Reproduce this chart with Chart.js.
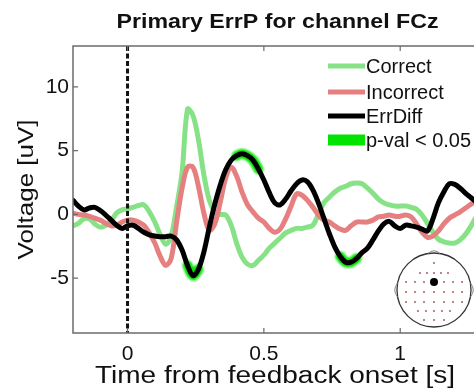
<!DOCTYPE html>
<html>
<head>
<meta charset="utf-8">
<script src="https://cdn.jsdelivr.net/npm/chart.js@4/dist/chart.umd.min.js"></script>
<style>
  html, body { margin: 0; padding: 0; background: #fff; overflow: hidden; }
  #wrap { width: 474px; height: 389px; overflow: hidden; position: relative; }
  canvas { display: block; }
</style>
</head>
<body>
<div id="wrap"><canvas id="erp" width="490" height="389"></canvas></div>
<script>
// Time from feedback onset [s]
const times = [
  -0.20, -0.18, -0.16, -0.14, -0.12, -0.10, -0.08, -0.06, -0.04, -0.02,
   0.00,  0.02,  0.04,  0.06,  0.08,  0.10,  0.12,  0.14,  0.16,  0.18,
   0.20,  0.22,  0.24,  0.26,  0.28,  0.30,  0.32,  0.34,  0.36,  0.38,
   0.40,  0.42,  0.44,  0.46,  0.48,  0.50,  0.52,  0.54,  0.56,  0.58,
   0.60,  0.62,  0.64,  0.66,  0.68,  0.70,  0.72,  0.74,  0.76,  0.78,
   0.80,  0.82,  0.84,  0.86,  0.88,  0.90,  0.92,  0.94,  0.96,  0.98,
   1.00,  1.02,  1.04,  1.06,  1.08,  1.10,  1.12,  1.14,  1.16,  1.18,
   1.20,  1.22,  1.24,  1.26,  1.28
];

// Grand-average voltage [uV] at FCz
const correct = [
  -0.9, -0.7, -0.35, -0.35, -0.75, -1.0, -0.85, -0.5, 0.1, 0.35,
   0.45, 0.55, 0.7, 0.75, 0.2, -0.6, -1.6, -2.35, -1.7, 0.6,
   3.3, 8.25, 7.75, 5.85, 3.1, 1.1, 0.2, 0.0, -0.05, -0.85,
  -2.25, -3.35, -3.9, -4.0, -3.6, -3.2, -2.65, -2.25, -1.85, -1.45,
  -1.25, -1.1, -1.1, -1.0, -0.85, 0.0, 0.9, 1.35, 1.75, 2.05,
   2.2, 2.4, 2.45, 2.4, 2.05, 1.65, 1.2, 0.9, 0.75, 0.65,
   0.65, 0.65, 0.55, 0.4, -0.05, -0.7, -1.4, -1.95, -2.15, -2.25,
  -2.25, -2.0, -1.55, -0.9, -0.15
];

const incorrect = [
   0.1, 0.0, -0.05, -0.15, -0.3, -0.45, -0.7, -0.9, -0.85, -0.6,
  -0.45, -0.45, -0.6, -0.85, -1.45, -2.25, -3.3, -4.0, -3.45, -0.6,
   2.05, 3.7, 3.7, 2.2, 0.1, -1.25, -0.75, 0.95, 2.85, 3.7,
   3.0, 1.75, 0.75, 0.2, -0.3, -0.6, -1.1, -1.4, -1.15, -0.35,
   0.65, 1.6, 1.5, 1.1, 0.55, -0.05, -0.45, -0.6, -0.9, -1.15,
  -1.25, -0.9, -0.6, -0.6, -0.6, -0.45, -0.2, -0.15, -0.05, -0.15,
  -0.15, -0.05, -0.2, -0.75, -1.4, -1.8, -1.7, -1.3, -0.75, -0.3,
  -0.05, 0.2, 0.5, 0.8, 1.05
];

const errDiff = [
   1.1, 0.65, 0.35, 0.5, 0.55, 0.3, -0.05, -0.45, -0.85, -1.1,
  -0.9, -0.85, -1.1, -1.4, -1.6, -1.7, -1.75, -1.75, -1.7, -2.0,
  -2.8, -4.0, -4.8, -4.3, -2.95, -1.0, 0.8, 2.3, 3.5, 4.25,
   4.6, 4.75, 4.6, 4.25, 3.55, 2.7, 1.7, 0.9, 0.75, 1.2,
   1.85, 2.4, 2.7, 2.55, 1.9, 0.9, -0.3, -1.5, -2.55, -3.3,
  -3.75, -3.75, -3.45, -3.0, -2.65, -2.0, -1.3, -0.75, -0.55, -0.9,
  -1.1, -0.85, -0.9, -1.0, -1.15, -1.3, -0.35, 0.9, 1.75, 2.4,
   2.35, 2.05, 1.65, 1.3, 0.95
];

// Time windows [s] where the Correct/Incorrect difference is significant
const sigWindows = [[0.21, 0.27], [0.39, 0.49], [0.77, 0.85]];

const xTicks = [0, 0.5, 1];
const yTicks = [-5, 0, 5, 10];

const FONT = '"Liberation Sans", Arial, Helvetica, sans-serif';
const COL_CORRECT = 'rgb(135, 226, 135)';
const COL_INCORRECT = 'rgb(230, 128, 128)';
const COL_DIFF = '#000000';
const COL_SIG = 'rgb(0, 228, 0)';

const pts = vals => times.map((t, i) => ({ x: t, y: vals[i] }));
const inSig = t => sigWindows.some(w => t >= w[0] && t <= w[1]);

// Text drawn with a horizontal stretch so it spans a given width
function stretchText(ctx, text, x, y, width, font, rotate) {
  ctx.save();
  ctx.font = font;
  const w = ctx.measureText(text).width;
  ctx.translate(x, y);
  if (rotate) ctx.rotate(-Math.PI / 2);
  ctx.scale(width / w, 1);
  ctx.textAlign = 'center';
  ctx.textBaseline = 'alphabetic';
  ctx.fillStyle = '#111';
  ctx.fillText(text, 0, 0);
  ctx.restore();
}

const decorations = {
  id: 'decorations',
  beforeDatasetDraw(chart, args) {
    const ds = chart.data.datasets[args.index];
    if (ds.glow) { chart.ctx.save(); chart.ctx.filter = 'blur(1.2px)'; }
  },
  afterDatasetDraw(chart, args) {
    const ds = chart.data.datasets[args.index];
    if (ds.glow) chart.ctx.restore();
  },
  afterDatasetsDraw(chart) {
    const { ctx, chartArea: a, scales } = chart;
    const xs = scales.x, ys = scales.y;
    ctx.save();
    // feedback onset marker
    const x0 = xs.getPixelForValue(0);
    ctx.strokeStyle = '#111';
    ctx.lineWidth = 3;
    ctx.setLineDash([5, 2.5]);
    ctx.beginPath();
    ctx.moveTo(x0, a.top);
    ctx.lineTo(x0, a.bottom);
    ctx.stroke();
    ctx.setLineDash([]);
    // axes box
    ctx.strokeStyle = '#6b6b6b';
    ctx.lineWidth = 1.5;
    ctx.strokeRect(a.left, a.top, a.right - a.left, a.bottom - a.top);
    // inward tick marks
    ctx.lineWidth = 1.2;
    ctx.beginPath();
    xTicks.forEach(v => {
      const px = xs.getPixelForValue(v);
      ctx.moveTo(px, a.bottom); ctx.lineTo(px, a.bottom - 5);
      ctx.moveTo(px, a.top); ctx.lineTo(px, a.top + 5);
    });
    yTicks.forEach(v => {
      const py = ys.getPixelForValue(v);
      ctx.moveTo(a.left, py); ctx.lineTo(a.left + 5, py);
      ctx.moveTo(a.right, py); ctx.lineTo(a.right - 5, py);
    });
    ctx.stroke();
    ctx.restore();
  },
  afterDraw(chart) {
    const { ctx, chartArea: a } = chart;
    // titles
    stretchText(ctx, 'Primary ErrP for channel FCz', (a.left + a.right) / 2, 28, 322, 'bold 21px ' + FONT);
    stretchText(ctx, 'Time from feedback onset [s]', 275, 383, 360, '23px ' + FONT);
    stretchText(ctx, 'Voltage [uV]', 33, (a.top + a.bottom) / 2, 140, '22px ' + FONT, true);

    // legend
    ctx.save();
    const items = [
      { label: 'Correct', color: COL_CORRECT, kind: 'line', y: 66 },
      { label: 'Incorrect', color: COL_INCORRECT, kind: 'line', y: 92 },
      { label: 'ErrDiff', color: COL_DIFF, kind: 'line', y: 116 },
      { label: 'p-val < 0.05', color: COL_SIG, kind: 'box', y: 140 }
    ];
    ctx.font = '20px ' + FONT;
    ctx.textBaseline = 'middle';
    ctx.textAlign = 'left';
    items.forEach(it => {
      if (it.kind === 'line') {
        ctx.strokeStyle = it.color;
        ctx.lineWidth = 5;
        ctx.beginPath();
        ctx.moveTo(328, it.y);
        ctx.lineTo(365, it.y);
        ctx.stroke();
      } else {
        ctx.fillStyle = it.color;
        ctx.fillRect(328, it.y - 5.5, 37, 11);
      }
      ctx.fillStyle = '#111';
      ctx.fillText(it.label, 366, it.y + 1);
    });
    ctx.restore();

    // electrode map with FCz highlighted
    ctx.save();
    const cx = 434, cy = 290, r = 37;
    ctx.strokeStyle = '#333';
    ctx.lineWidth = 1.3;
    ctx.beginPath();
    ctx.arc(cx, cy, r, 0, Math.PI * 2);
    ctx.stroke();
    ctx.lineWidth = 1;
    ctx.strokeStyle = '#888';
    ctx.beginPath();
    ctx.moveTo(cx - 6, cy - r + 0.5);
    ctx.quadraticCurveTo(cx, cy - r - 5, cx + 6, cy - r + 0.5);
    ctx.stroke();
    ctx.beginPath();
    ctx.moveTo(cx - r + 0.5, cy - 7);
    ctx.quadraticCurveTo(cx - r - 5, cy, cx - r + 0.5, cy + 7);
    ctx.moveTo(cx + r - 0.5, cy - 7);
    ctx.quadraticCurveTo(cx + r + 5, cy, cx + r - 0.5, cy + 7);
    ctx.stroke();
    const rows = [
      { dy: -27, dx: [0] },
      { dy: -17, dx: [-14, -7, 0, 7, 14] },
      { dy: -8, dx: [-28, -19, -10, 0, 10, 19, 28] },
      { dy: 2, dx: [-28, -19, -10, 0, 10, 19, 28] },
      { dy: 12, dx: [-28, -19, -10, 0, 10, 19, 28] },
      { dy: 21, dx: [-16, -8, 0, 8, 16] },
      { dy: 30, dx: [-10, 0, 10] }
    ];
    ctx.fillStyle = 'rgb(150, 80, 80)';
    rows.forEach(row => row.dx.forEach(dx => {
      ctx.beginPath();
      ctx.arc(cx + dx, cy + row.dy, 0.9, 0, Math.PI * 2);
      ctx.fill();
    }));
    ctx.fillStyle = '#000';
    ctx.beginPath();
    ctx.arc(cx, cy - 8, 4, 0, Math.PI * 2);
    ctx.fill();
    ctx.restore();
  }
};

new Chart(document.getElementById('erp'), {
  type: 'line',
  data: {
    datasets: [
      {
        label: 'ErrDiff', data: pts(errDiff), borderColor: COL_DIFF,
        borderWidth: 5, order: 0
      },
      {
        label: 'p-val < 0.05', data: pts(errDiff), borderColor: COL_SIG,
        borderWidth: 10, order: 1, glow: true,
        segment: {
          borderColor: c => (inSig(c.p0.parsed.x) && inSig(c.p1.parsed.x)) ? COL_SIG : 'rgba(0,0,0,0)'
        }
      },
      {
        label: 'Incorrect', data: pts(incorrect), borderColor: COL_INCORRECT,
        borderWidth: 5, order: 2
      },
      {
        label: 'Correct', data: pts(correct), borderColor: COL_CORRECT,
        borderWidth: 5, order: 3
      }
    ]
  },
  options: {
    responsive: false,
    animation: false,
    devicePixelRatio: 1,
    layout: { padding: { top: 46, right: 8, left: 0, bottom: 0 } },
    elements: {
      point: { radius: 0, hoverRadius: 0 },
      line: { tension: 0.35, borderCapStyle: 'round', borderJoinStyle: 'round', fill: false }
    },
    plugins: {
      legend: { display: false },
      title: { display: false },
      tooltip: { enabled: false }
    },
    scales: {
      x: {
        type: 'linear', min: -0.2, max: 1.3,
        afterBuildTicks: s => { s.ticks = xTicks.map(v => ({ value: v })); },
        afterFit: s => { s.height = 56; },
        grid: { display: false, drawTicks: false },
        border: { display: false },
        ticks: {
          padding: 9, color: '#111', font: { family: FONT, size: 21 },
          maxRotation: 0, callback: v => String(v)
        }
      },
      y: {
        type: 'linear', min: -9.3, max: 13.2,
        afterBuildTicks: s => { s.ticks = yTicks.map(v => ({ value: v })); },
        afterFit: s => { s.width = 73; },
        grid: { display: false, drawTicks: false },
        border: { display: false },
        ticks: {
          padding: 4, color: '#111', font: { family: FONT, size: 21 },
          callback: v => String(v)
        }
      }
    }
  },
  plugins: [decorations]
});
</script>
</body>
</html>
